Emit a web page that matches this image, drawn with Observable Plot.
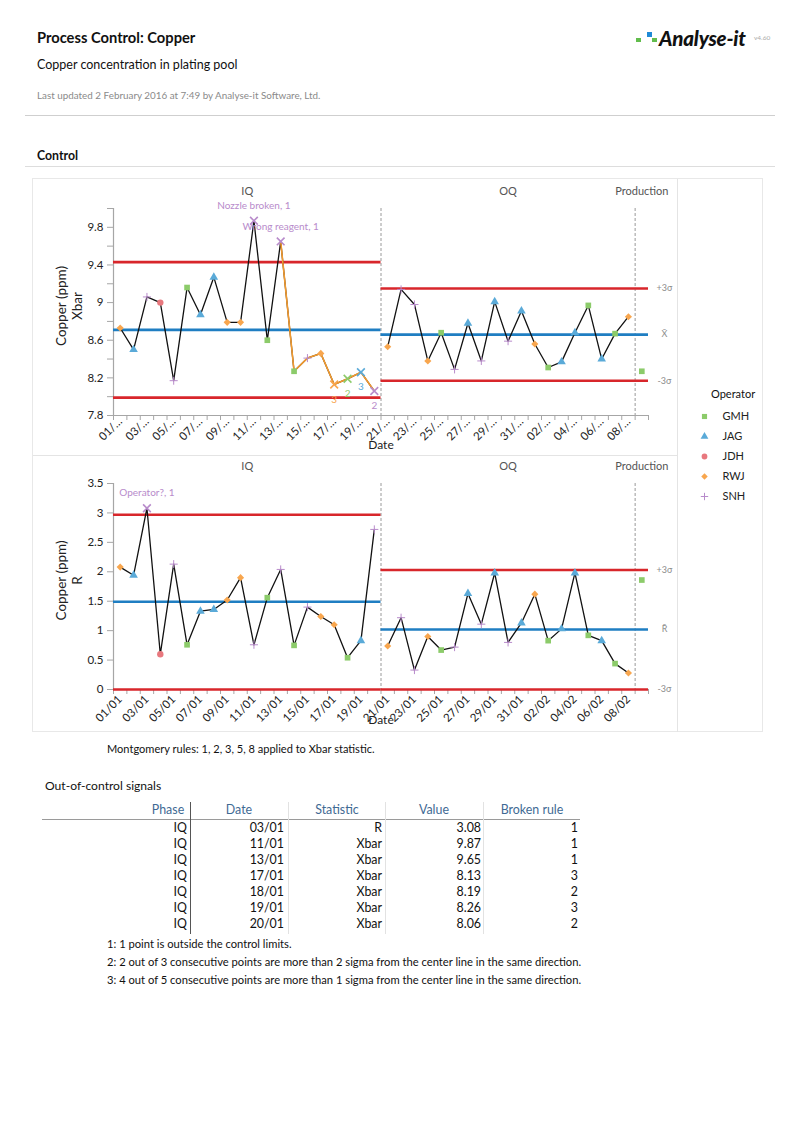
<!DOCTYPE html>
<html><head><meta charset="utf-8">
<script src="https://cdn.jsdelivr.net/npm/d3@7"></script>
<script src="https://cdn.jsdelivr.net/npm/@observablehq/plot@0.6"></script>
<style>
html,body{margin:0;padding:0;background:#fff}
body{width:800px;height:1132px;position:relative;overflow:hidden;font-family:Lato,"Open Sans",sans-serif;color:#111}
.a{position:absolute;white-space:nowrap}
.hr{position:absolute;height:0;border-top:1px solid #cfcfcf}
.vr{position:absolute;width:0;border-left:1px solid #e4e4e4}
.c{position:absolute}
svg{overflow:visible}
</style></head><body>
<div class="a" style="left:37px;top:28px;font-size:14.7px;font-weight:700">Process Control: Copper</div>
<div class="a" style="left:636px;top:37.5px;width:4.5px;height:4.5px;background:#62bd4c"></div>
<div class="a" style="left:647px;top:32px;width:5px;height:5px;background:#1f8ad6"></div>
<div class="a" style="left:652px;top:37.5px;width:4.5px;height:4.5px;background:#62bd4c"></div>
<div class="a" style="left:659px;top:26px;font-size:20.5px;font-weight:900;font-style:italic;letter-spacing:-0.2px">Analyse-it</div>
<div class="a" style="left:754px;top:34px;font-size:6.5px;color:#aaa">v4.60</div>
<div class="a" style="left:37px;top:57px;font-size:12.5px">Copper concentration in plating pool</div>
<div class="a" style="left:37px;top:89px;font-size:9.85px;color:#8a8a8a">Last updated 2 February 2016 at 7:49 by Analyse-it Software, Ltd.</div>
<div class="hr" style="left:25px;top:115px;width:750px"></div>
<div class="a" style="left:37px;top:148px;font-size:12.3px;font-weight:700">Control</div>
<div class="hr" style="left:25px;top:166px;width:750px;border-color:#ddd"></div>

<div class="c" style="left:32px;top:178px;width:731px;height:554px;border:1px solid #e8e8e8;box-sizing:border-box"></div>
<div class="vr" style="left:677px;top:179px;height:553px"></div>
<div class="hr" style="left:33px;top:455px;width:644px;border-color:#e4e4e4"></div>
<div class="c" id="xbarChart" style="left:33px;top:180px"></div>
<div class="c" id="rChart" style="left:33px;top:455px"></div>
<div class="a" style="left:711px;top:387px;font-size:11px">Operator</div>
<div class="c" id="legend" style="left:690px;top:400px"></div>

<div class="a" style="left:107px;top:742px;font-size:11.05px">Montgomery rules: 1, 2, 3, 5, 8 applied to Xbar statistic.</div>
<div class="a" style="left:45px;top:778px;font-size:12.1px">Out-of-control signals</div>
<div class="c" id="table" style="left:0;top:0"></div>
<div class="c" id="notes" style="left:0;top:0"></div>

<script>
// ---------- data ----------
const dates = ["01/01","02/01","03/01","04/01","05/01","06/01","07/01","08/01","09/01","10/01",
  "11/01","12/01","13/01","14/01","15/01","16/01","17/01","18/01","19/01","20/01",
  "21/01","22/01","23/01","24/01","25/01","26/01","27/01","28/01","29/01","30/01","31/01",
  "01/02","02/02","03/02","04/02","05/02","06/02","07/02","08/02","09/02"];
const operators = ["RWJ","JAG","SNH","JDH","SNH","GMH","JAG","JAG","RWJ","RWJ",
  "SNH","GMH","SNH","GMH","SNH","RWJ","RWJ","GMH","JAG","SNH",
  "RWJ","SNH","SNH","RWJ","GMH","SNH","JAG","SNH","JAG","SNH","JAG",
  "RWJ","GMH","JAG","JAG","GMH","JAG","GMH","RWJ","GMH"];
const xbarValues = [8.73,8.50,9.06,9.00,8.17,9.16,8.87,9.27,8.79,8.79,
  9.87,8.60,9.65,8.27,8.41,8.46,8.13,8.19,8.26,8.06,
  8.53,9.14,8.98,8.38,8.68,8.29,8.78,8.38,9.01,8.59,8.91,
  8.56,8.31,8.37,8.68,8.97,8.40,8.67,8.85,8.27];
const rangeValues = [2.08,1.94,3.08,0.60,2.13,0.76,1.33,1.36,1.52,1.90,
  0.76,1.56,2.04,0.75,1.40,1.24,1.10,0.54,0.83,2.72,
  0.74,1.22,0.33,0.90,0.67,0.72,1.63,1.11,1.98,0.80,1.13,
  1.62,0.83,1.03,1.98,0.92,0.83,0.44,0.28,1.86];

const phaseNames = ["IQ","OQ","Production"];
const phaseStarts = ["01/01","21/01","09/02"];
const limitPhases = ["IQ","OQ"];
const xbarUCL = [9.43, 9.15];
const xbarCL  = [8.71, 8.66];
const xbarLCL = [7.99, 8.17];
const rUCL = [2.97, 2.03];
const rCL  = [1.49, 1.02];
const rLCL = [0, 0];
const xbarRun = ["13/01","20/01"];

const xbarTicks = [7.8, 8.2, 8.6, 9, 9.4, 9.8];
const xbarMinor = [8.0, 8.4, 8.8, 9.2, 9.6, 10.0];
const rTicks = [0, 0.5, 1, 1.5, 2, 2.5, 3, 3.5];

const opDomain  = ["GMH","JAG","JDH","RWJ","SNH"];
const opColors  = ["#8ccb6a","#5aaad8","#e8787e","#f8a64e","#b88bcb"];
const opSymbols = ["square","triangle","circle","diamond2","plus"];

const sigPhases = ["IQ","IQ","IQ","IQ","IQ","IQ","IQ"];
const sigDates  = ["03/01","11/01","13/01","17/01","18/01","19/01","20/01"];
const sigStats  = ["R","Xbar","Xbar","Xbar","Xbar","Xbar","Xbar"];
const sigValues = [3.08, 9.87, 9.65, 8.13, 8.19, 8.26, 8.06];
const sigRules  = [1, 1, 1, 3, 2, 3, 2];
const sigNotes  = ["Operator?","Nozzle broken","Wrong reagent","","","",""];

const ruleNumbers = [1, 2, 3];
const ruleTexts = [
  "1 point is outside the control limits.",
  "2 out of 3 consecutive points are more than 2 sigma from the center line in the same direction.",
  "4 out of 5 consecutive points are more than 1 sigma from the center line in the same direction."];

// ---------- derived ----------
const RED = "#d8262b", BLUE = "#1f7ec2", ORANGE = "#f29a2e", AX = "#a6a6a6";
const startIdx = phaseStarts.map(s => dates.indexOf(s));
function phaseOf(i){ let p = 0; startIdx.forEach((s,k) => { if (i >= s) p = k; }); return phaseNames[p]; }
const rows = dates.map((date,i) => ({i, x: i + 0.5, date, op: operators[i], xbar: xbarValues[i], r: rangeValues[i], phase: phaseOf(i)}));
const signals = sigDates.map((d,k) => ({phase: sigPhases[k], date: d, stat: sigStats[k], value: sigValues[k], rule: sigRules[k], note: sigNotes[k],
  x: dates.indexOf(d) + 0.5, op: operators[dates.indexOf(d)]}));
const edges = d3.range(dates.length + 1);
const labelPos = rows.filter(r => r.i % 2 === 0).map(r => r.x);
const boundaries = startIdx.slice(1);
const phaseTitles = phaseNames.map((p,k) => ({p, cx: (startIdx[k] + (k + 1 < startIdx.length ? startIdx[k+1] : dates.length)) / 2}));

function opDots(data, yKey, r) {
  return [
    Plot.dot(data.filter(d => d.op !== "SNH"), {x: "x", y: yKey, symbol: "op", fill: "op", r}),
    Plot.dot(data.filter(d => d.op === "SNH"), {x: "x", y: yKey, symbol: "op", stroke: "op", r: r * 0.85, strokeWidth: 1})
  ];
}

function controlChart(o) {
  const W = 644, ML = 80, MR = 29, MT = 28;
  const segs = limitPhases.map((p,k) => {
    const s = startIdx[phaseNames.indexOf(p)];
    const e = k + 1 < limitPhases.length ? startIdx[phaseNames.indexOf(limitPhases[k+1])] : dates.length;
    return {p, x1: s, x2: e, ucl: o.ucl[k], cl: o.cl[k], lcl: o.lcl[k]};
  });
  const last = segs[segs.length - 1];
  const sig = signals.filter(s => s.stat === o.stat).map(s => {
    const seg = segs.find(g => g.p === s.phase);
    return {...s, label: s.note ? `${s.note}, ${s.rule}` : String(s.rule), above: s.value > seg.cl};
  });
  const sigSet = new Set(sig.map(s => s.date));
  const pts = rows.filter(r => !sigSet.has(r.date));
  const sideLabels = [{y: last.ucl, t: "+3σ"}, {y: last.cl, t: o.centerName}, {y: last.lcl, t: "-3σ"}];
  const fmtMap = new Map(rows.map(r => [r.x, o.short ? r.date.slice(0,3) + "…" : r.date]));
  const marks = [
    Plot.ruleX([0], {stroke: AX, strokeWidth: 1.2}),
    Plot.ruleY([o.yDomain[0]], {stroke: AX, strokeWidth: 1.2}),
    o.yMinor ? Plot.axisY({ticks: o.yMinor, tickSize: 6, tickFormat: () => "", stroke: AX, label: null}) : null,
    Plot.axisY({ticks: o.yTicks, tickSize: 6, tickPadding: 4, tickFormat: d => `${d}`, stroke: AX, fill: "#222", fontSize: 11.5, label: null}),
    Plot.axisX({ticks: edges, tickSize: 5, tickFormat: () => "", stroke: AX, label: null}),
    Plot.axisX({ticks: labelPos, tickSize: 0, tickRotate: -45, tickPadding: o.tickPadding, tickFormat: v => fmtMap.get(v), fill: "#222", fontSize: 11.5, label: null}),
    Plot.ruleX(boundaries, {x: d => d, stroke: "#9a9a9a", strokeDasharray: "3,2", strokeWidth: 1}),
    Plot.ruleY(segs, {x1: "x1", x2: "x2", y: "ucl", stroke: RED, strokeWidth: 2.6}),
    Plot.ruleY(segs, {x1: "x1", x2: "x2", y: "lcl", stroke: RED, strokeWidth: 2.6}),
    Plot.ruleY(segs, {x1: "x1", x2: "x2", y: "cl", stroke: BLUE, strokeWidth: 2.6}),
    Plot.text(sideLabels, {x: () => dates.length, y: "y", text: "t", dx: 16, fill: "#8c8c8c", fontSize: 9}),
    Plot.text(phaseTitles, {x: "cx", text: "p", frameAnchor: "top", dy: -17, lineAnchor: "middle", fill: "#555", fontSize: 11}),
    Plot.text([`Copper (ppm)\n${o.yName}`], {frameAnchor: "left", dx: -45, dy: -6, rotate: -90, textAnchor: "middle", lineAnchor: "middle", lineHeight: 1.2, fontSize: 13.5, fill: "#222"}),
    Plot.line(rows.filter(r => limitPhases.includes(r.phase)), {x: "x", y: o.key, z: "phase", stroke: "#111", strokeWidth: 1.3}),
    o.run ? Plot.line(rows.filter(r => r.i >= dates.indexOf(o.run[0]) && r.i <= dates.indexOf(o.run[1])), {x: "x", y: o.key, stroke: ORANGE, strokeWidth: 1.6}) : null,
    ...opDots(pts, o.key, 3.2),
    Plot.dot(sig, {x: "x", y: "value", symbol: "times", stroke: "op", r: 3.6, strokeWidth: 1.6}),
    Plot.text(sig.filter(s => s.above), {x: "x", y: "value", text: "label", dy: -15, fill: "op", fontSize: 10, lineAnchor: "middle"}),
    Plot.text(sig.filter(s => !s.above), {x: "x", y: "value", text: "label", dy: 15, fill: "op", fontSize: 10, lineAnchor: "middle"}),
    Plot.text(["Date"], {frameAnchor: "bottom", dy: o.dateDy, lineAnchor: "middle", fontSize: 12, fill: "#222"})
  ].filter(Boolean);
  return Plot.plot({
    width: W, height: o.height, marginLeft: ML, marginRight: MR, marginTop: MT, marginBottom: o.marginBottom,
    style: {fontFamily: "Lato, sans-serif", fontSize: "11px", background: "transparent", overflow: "visible"},
    x: {domain: [0, dates.length]},
    y: {domain: o.yDomain},
    color: {domain: opDomain, range: opColors},
    symbol: {domain: opDomain, range: opSymbols},
    marks
  });
}

document.getElementById("xbarChart").append(controlChart({
  key: "xbar", stat: "Xbar", ucl: xbarUCL, cl: xbarCL, lcl: xbarLCL, yDomain: [7.8, 10.0],
  yTicks: xbarTicks, yMinor: xbarMinor, yName: "Xbar", centerName: "X\u0304", short: true,
  height: 275, marginBottom: 40, tickPadding: 4, run: xbarRun, dateDy: 30
}));
document.getElementById("rChart").append(controlChart({
  key: "r", stat: "R", ucl: rUCL, cl: rCL, lcl: rLCL, yDomain: [0, 3.5],
  yTicks: rTicks, yMinor: null, yName: "R", centerName: "R\u0304", short: false,
  height: 277, marginBottom: 43, tickPadding: 8, run: null, dateDy: 31
}));

// legend
const legendRows = opDomain.map(op => ({op}));
document.getElementById("legend").append(Plot.plot({
  width: 70, height: 110, margin: 0, marginLeft: 14,
  style: {fontFamily: "Lato, sans-serif", fontSize: "11px", background: "transparent", overflow: "visible"},
  x: {domain: [0, 1], axis: null},
  y: {type: "point", domain: opDomain, range: [14, 97], padding: 0, axis: null},
  color: {domain: opDomain, range: opColors},
  symbol: {domain: opDomain, range: opSymbols},
  marks: [
    Plot.dot(legendRows.filter(d => d.op !== "SNH"), {x: () => 0, y: "op", symbol: "op", fill: "op", r: 2.9}),
    Plot.dot(legendRows.filter(d => d.op === "SNH"), {x: () => 0, y: "op", symbol: "op", stroke: "op", r: 2.5, strokeWidth: 1}),
    Plot.text(legendRows, {x: () => 0, y: "op", text: "op", dx: 18, textAnchor: "start", fill: "#222", fontSize: 11})
  ]
}));

// table
const cols = [
  {name: "Phase", vals: sigPhases, hc: 168, r: 187},
  {name: "Date", vals: sigDates, hc: 239, r: 284},
  {name: "Statistic", vals: sigStats, hc: 337, r: 382},
  {name: "Value", vals: sigValues.map(v => v.toFixed(2)), hc: 434, r: 481},
  {name: "Broken rule", vals: sigRules.map(String), hc: 532, r: 578}
];
const tb = document.getElementById("table");
let html = "";
const headY = 811, rowY0 = 829, rowH = 16;
cols.forEach(c => {
  html += `<div class="a" style="left:${c.hc - 60}px;width:120px;text-align:center;top:${headY - 9}px;font-size:12.4px;color:#3f6a94">${c.name}</div>`;
  c.vals.forEach((v,k) => {
    html += `<div class="a" style="left:${c.r - 120}px;width:120px;text-align:right;top:${rowY0 + k*rowH - 9}px;font-size:12.4px">${v}</div>`;
  });
});
html += `<div class="hr" style="left:42px;top:${headY + 8}px;width:538px;border-color:#9a9a9a"></div>`;
html += `<div class="vr" style="left:190px;top:${headY - 9}px;height:${rowY0 + (sigDates.length - 1)*rowH + 9 - (headY - 9)}px;border-color:#555"></div>`;
[288, 385, 483].forEach(x => {
  html += `<div class="vr" style="left:${x}px;top:${headY - 9}px;height:${rowY0 + (sigDates.length - 1)*rowH + 9 - (headY - 9)}px;border-color:#e2e2e2"></div>`;
});
tb.innerHTML = html;

const nt = document.getElementById("notes");
nt.innerHTML = ruleNumbers.map((n,k) => `<div class="a" style="left:107px;top:${937 + k*18}px;font-size:11.2px">${n}: ${ruleTexts[k]}</div>`).join("");
</script>
</body></html>
